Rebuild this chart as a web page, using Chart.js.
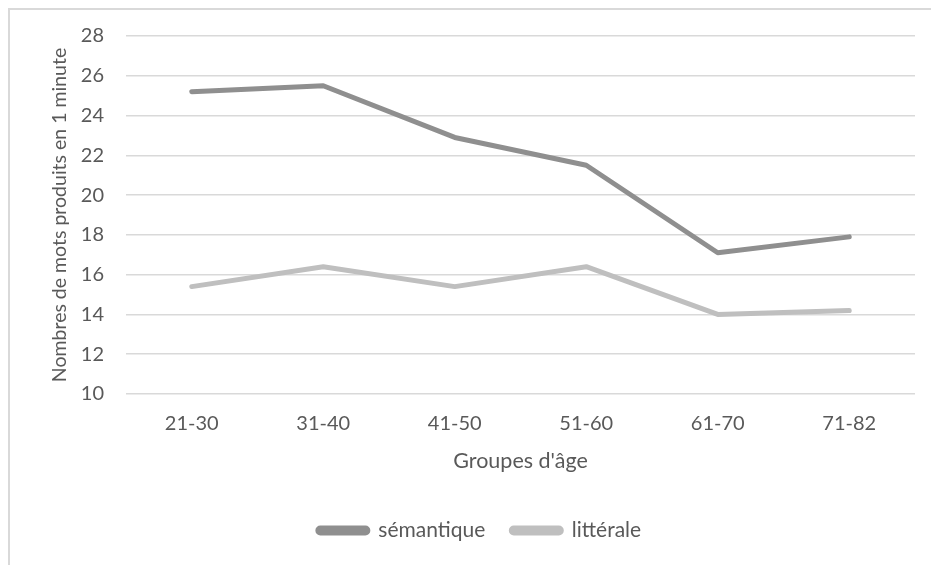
<!DOCTYPE html>
<html lang="fr">
<head>
<meta charset="utf-8">
<script src="https://cdn.jsdelivr.net/npm/chart.js@4.4.1/dist/chart.umd.min.js"></script>
<style>
  html, body { margin: 0; padding: 0; background: #fff; }
  #cadre { position: absolute; left: 8px; top: 8px; width: 940px; height: 580px;
           border: 2px solid #d9d9d9; box-sizing: border-box; }
  #zone { position: absolute; left: 0; top: 0; width: 931px; height: 565px; }
</style>
</head>
<body>
<div id="cadre"></div>
<div id="zone"><canvas id="fluence"></canvas></div>
<script>
const groupes = ['21-30', '31-40', '41-50', '51-60', '61-70', '71-82'];
const semantique = [25.2, 25.5, 22.9, 21.5, 17.1, 17.9];
const litterale = [15.4, 16.4, 15.4, 16.4, 14.0, 14.2];

const police = 'Lato, "Noto Sans", sans-serif';
const gris = '#595959';

const data = {
  labels: groupes,
  datasets: [{
    label: 'sémantique',
    data: semantique,
    borderColor: '#8f8f8f',
    backgroundColor: '#8f8f8f',
  },
  {
    label: 'littérale',
    data: litterale,
    borderColor: '#bfbfbf',
    backgroundColor: '#bfbfbf',
  }],
};

const options = {
  responsive: false,
  animation: false,
  layout: { padding: { top: 36, left: 44, right: 16, bottom: 14 } },
  elements: {
    point: { radius: 0 },
    line: { borderWidth: 5, tension: 0, borderCapStyle: 'round', borderJoinStyle: 'round' },
  },
  plugins: {
    tooltip: { enabled: false },
    legend: {
      position: 'bottom',
      labels: {
        color: gris,
        font: { family: police, size: 21 },
        boxWidth: 50,
        boxHeight: 5,
        padding: 26,
        useBorderRadius: true,
        borderRadius: 2.5,
      },
    },
  },
  scales: {
    x: {
      offset: true,
      grid: { display: false, drawTicks: false },
      border: { display: false },
      ticks: { color: gris, font: { family: police, size: 20 }, padding: 18, maxRotation: 0 },
      title: {
        display: true,
        text: "Groupes d'âge",
        color: gris,
        font: { family: police, size: 21.5 },
        padding: { top: 0, bottom: 20 },
      },
      afterFit: (s) => { s.height = 100; },
    },
    y: {
      min: 10,
      max: 28,
      ticks: { stepSize: 2, color: gris, font: { family: police, size: 20 }, padding: 22 },
      grid: { color: '#d9d9d9', lineWidth: 1.5, drawTicks: false },
      border: { display: false },
      title: {
        display: true,
        text: 'Nombres de mots produits en 1 minute',
        color: gris,
        font: { family: police, size: 19.5 },
        padding: { top: 4, bottom: 0 },
      },
      afterFit: (s) => { s.width = 82; },
    },
  },
};

const canvas = document.getElementById('fluence');
canvas.width = 931;
canvas.height = 565;
new Chart(canvas, { type: 'line', data, options });
</script>
</body>
</html>
